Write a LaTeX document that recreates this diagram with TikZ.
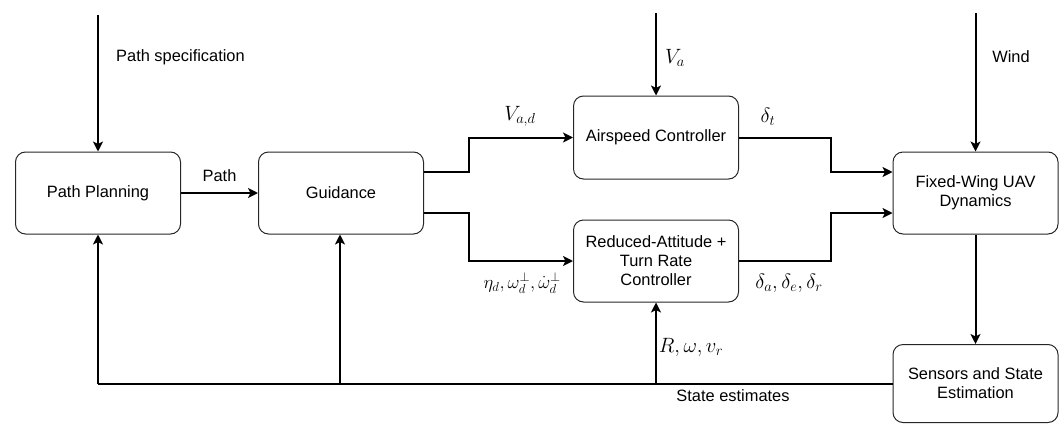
\RequirePackage{fix-cm}
\documentclass[tikz,border=0pt]{standalone}
\usepackage{fontspec}
\setmainfont{Liberation Sans}
\usetikzlibrary{arrows.meta}

\begin{document}
\begin{tikzpicture}[x=1pt,y=-1pt,
  block/.style={draw=black!85, line width=1pt, rounded corners=10pt,
    minimum width=165pt, minimum height=82pt, align=center, inner sep=2pt,
    font=\fontsize{16.4}{19}\selectfont},
  conn/.style={line width=2pt, -{Stealth[length=10pt,width=10pt,inset=2.5pt]}},
  wire/.style={line width=2pt},
  lbl/.style={inner sep=0pt, font=\fontsize{16.4}{19}\selectfont},
  mlbl/.style={inner sep=0pt, font=\fontsize{20.7}{24}\selectfont}]

\useasboundingbox (0,0) rectangle (1064,423);

% blocks
\node[block] (pp) at (98,193) {Path Planning};
\node[block] (gd) at (341,193) {Guidance};
\node[block, minimum height=83pt] (as) at (656,137.5) {Airspeed Controller};
\node[block] (ra) at (656,261) {Reduced-Attitude +\\Turn Rate\\Controller};
\node[block] (fw) at (975.5,193) {Fixed-Wing UAV\\Dynamics};
\node[block, minimum height=78pt] (se) at (975.5,383.5) {Sensors and State\\Estimation};

% external inputs
\coordinate (pstop) at (pp.north |- 0,15);
\coordinate (vatop) at (as.north |- 0,13);
\coordinate (wdtop) at (fw.north |- 0,13);
\draw[conn] (pstop) -- (pp.north);
\draw[conn] (vatop) -- (as.north);
\draw[conn] (wdtop) -- (fw.north);

\node[lbl, anchor=west] (lps) at (116,57) {Path specification};
\node[mlbl] (lva) at (675,58) {$V_a$};
\node[lbl] (lwd) at (1011,57) {Wind};

% forward path
\draw[conn] (pp.east) -- (gd.west) node[lbl, midway, above=10pt] (lpath) {Path};
\draw[conn] ([yshift=21pt]gd.east) -- ++(45,0) |- (as.west);
\draw[conn] ([yshift=-20pt]gd.east) -- ++(45,0) |- (ra.west);
\draw[conn] (as.east) -- ++(91.5,0) |- ([yshift=21pt]fw.west);
\draw[conn] (ra.east) -- ++(91.5,0) |- ([yshift=-20pt]fw.west);
\draw[conn] (fw.south) -- (se.north);

\node[mlbl] (lvad) at (520,116) {$V_{a,d}$};
\node[mlbl, anchor=east, font=\fontsize{18.5}{22}\selectfont] (leta) at (561,283)
  {$\eta_d, \omega_d^{\perp}, \dot{\omega}_d^{\perp}$};
\node[mlbl] (ldt) at (768,117) {$\delta_t$};
\node[mlbl] (ldel) at (789,283) {$\delta_a, \delta_e, \delta_r$};

% state feedback
\coordinate (fbpp) at (pp.south |- se.west);
\coordinate (fbgd) at (340,0 |- se.west);
\coordinate (fbra) at (ra.south |- se.west);
\draw[wire] (se.west) -- (fbpp);
\draw[conn] (fbpp) -- (pp.south);
\draw[conn] (fbgd) -- (gd.south -| fbgd);
\draw[conn] (fbra) -- (ra.south);

\node[mlbl] (lrw) at (691,347) {$R, \omega, v_r$};
\node[lbl] (lse) at (733,396) {State estimates};

\end{tikzpicture}
\end{document}
